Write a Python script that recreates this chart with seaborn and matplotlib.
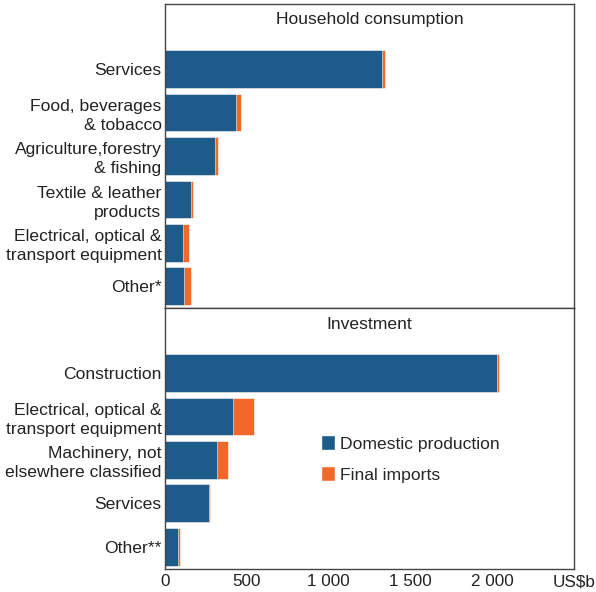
import matplotlib
matplotlib.use("Agg")
import matplotlib.pyplot as plt
from matplotlib.patches import Patch
import seaborn as sns
import pandas as pd
import numpy as np

# ---- data ----
hh_categories = ["Services", "Food, beverages\n& tobacco", "Agriculture,forestry\n& fishing",
                 "Textile & leather\nproducts", "Electrical, optical &\ntransport equipment", "Other*"]
hh_domestic = [1325, 432, 308, 160, 110, 115]
hh_imports = [22, 31, 14, 14, 37, 42]

inv_categories = ["Construction", "Electrical, optical &\ntransport equipment",
                  "Machinery, not\nelsewhere classified", "Services", "Other**"]
inv_domestic = [2027, 415, 320, 266, 78]
inv_imports = [12, 126, 65, 10, 11]

x_ticks = [0, 500, 1000, 1500, 2000, 2500]
x_ticklabels = ["0", "500", "1 000", "1 500", "2 000", "US$b"]

panel_titles = ["Household consumption", "Investment"]
series_names = ["Domestic production", "Final imports"]

BLUE = "#1C5B8A"
ORANGE = "#F0692B"
TXT = "#222222"
SPINE = "#444444"

sns.set_theme(style="white")
plt.rcParams["font.family"] = ["Liberation Sans", "DejaVu Sans"]
plt.rcParams["font.size"] = 12

fig = plt.figure(figsize=(5.96, 5.92), dpi=100)
gs = fig.add_gridspec(2, 1, height_ratios=[7, 6], hspace=0,
                      left=165/596, right=574/596, top=1-4/592, bottom=1-568.5/592)
axes = [fig.add_subplot(gs[0]), fig.add_subplot(gs[1])]

panels = [(hh_categories, hh_domestic, hh_imports), (inv_categories, inv_domestic, inv_imports)]

for i, (ax, (cats, dom, imp)) in enumerate(zip(axes, panels)):
    df = pd.DataFrame({"cat": cats, "dom": dom, "imp": imp})
    df["total"] = df["dom"] + df["imp"]
    sns.barplot(data=df, y="cat", x="total", order=cats, color=ORANGE, orient="h",
                width=0.87, saturation=1, ax=ax, edgecolor="white", linewidth=0.4)
    sns.barplot(data=df, y="cat", x="dom", order=cats, color=BLUE, orient="h",
                width=0.87, saturation=1, ax=ax, edgecolor="white", linewidth=0.4)
    n = len(cats)
    ax.set_ylim(n - 0.5, -1.5)
    ax.set_xlim(0, 2500)
    ax.set_xlabel("")
    ax.set_ylabel("")
    ax.set_yticks(range(n))
    ax.set_yticklabels(cats, color=TXT, fontsize=12.6, linespacing=1.3)
    ax.tick_params(axis="y", which="major", length=0, pad=2.5)
    ax.set_yticks(np.arange(-0.5, n, 1.0), minor=True)
    ax.tick_params(axis="y", which="minor", length=4, direction="in", color="#666666", width=1)
    for s in ax.spines.values():
        s.set_visible(True)
        s.set_color(SPINE)
        s.set_linewidth(1)
    ax.text(0.5, 1 - 16/304 if i == 0 else 1 - 17/260, panel_titles[i], transform=ax.transAxes,
            ha="center", va="center", fontsize=12.6, color=TXT)

axes[0].set_xticks([])
axes[0].tick_params(axis="x", length=0)
axes[1].set_xticks(x_ticks)
axes[1].set_xticklabels(x_ticklabels, color=TXT, fontsize=12.3)
axes[1].tick_params(axis="x", direction="in", length=5, color=SPINE, width=1, pad=4)

handles = [Patch(facecolor=BLUE, label=series_names[0]), Patch(facecolor=ORANGE, label=series_names[1])]
axes[1].legend(handles=handles, loc="upper left", bbox_to_anchor=((314-165)/409, 1-120/260),
               frameon=False, fontsize=12.6, handlelength=0.8, handleheight=0.9,
               handletextpad=0.3, labelspacing=0.85, borderaxespad=0)

fig.savefig("out.png", dpi=100)
